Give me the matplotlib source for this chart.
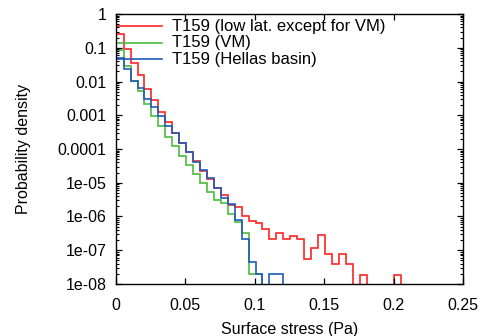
import numpy as np
import matplotlib
matplotlib.use("Agg")
import matplotlib.pyplot as plt
from matplotlib.ticker import LogLocator, FuncFormatter, NullFormatter, MultipleLocator

# histogram bin edges (Pa); first bin starts at 0
BIN_W = 0.005
EDGES = np.concatenate([[0.0], 0.0055 + BIN_W * np.arange(41)])

# probability density per bin (0 = empty bin)
low_lat = [2.51e-1, 8.91e-2, 3.55e-2, 1.51e-2, 6.03e-3, 2.75e-3, 1.26e-3,
           6.2e-4, 3.0e-4, 1.48e-4, 7.9e-5, 4.4e-5, 2.3e-5, 1.26e-5, 7.2e-6,
           4.2e-6, 2.2e-6, 1.86e-6, 1.07e-6, 7.2e-7, 6.6e-7, 4.3e-7, 2.1e-7,
           3.2e-7, 2.2e-7, 2.7e-7, 2.1e-7, 5.5e-8, 1.17e-7, 2.75e-7, 7.6e-8,
           4.0e-8, 7.6e-8, 4.0e-8, 0, 1.8e-8, 0, 0, 0, 0, 1.8e-8]
vm = [8.3e-2, 2.9e-2, 1.07e-2, 5.4e-3, 2.2e-3, 9.8e-4, 4.7e-4, 2.3e-4,
      1.2e-4, 6.3e-5, 3.3e-5, 1.8e-5, 9.8e-6, 5.4e-6, 3.0e-6, 2.45e-6,
      1.2e-6, 7.1e-7, 3.3e-7, 2.0e-8, 2.0e-8]
hellas = [5.13e-2, 2.4e-2, 1.07e-2, 6.3e-3, 3.1e-3, 1.74e-3, 9.5e-4, 4.9e-4,
          2.9e-4, 1.48e-4, 7.9e-5, 4.2e-5, 2.4e-5, 1.35e-5, 6.9e-6, 3.6e-6,
          2.3e-6, 8.1e-7, 2.2e-7, 4.5e-8, 2.0e-8, 0, 2.0e-8, 2.0e-8]

labels = ["T159 (low lat. except for VM)", "T159 (VM)", "T159 (Hellas basin)"]
colors = ["#ff2424", "#4cbb3c", "#1f5cb8"]
series = [low_lat, vm, hellas]

plt.rcParams["font.family"] = ["Liberation Sans", "DejaVu Sans"]
plt.rcParams["font.size"] = 11.5

fig = plt.figure(figsize=(4.86, 3.36), dpi=100)
ax = fig.add_axes([0.2387, 0.1548, 0.714, 0.8035])

FLOOR = 1e-12   # empty bins drawn below the axis so they get clipped
for vals, c in zip(series, colors):
    v = np.array(vals, dtype=float)
    v = np.where(v > 0, v, FLOOR)
    ax.stairs(v, EDGES[:len(v) + 1], baseline=FLOOR, color=c, lw=1.2)

ax.set_yscale("log")
ax.set_xlim(0, 0.25)
ax.set_ylim(1e-8, 1)
ax.xaxis.set_major_locator(MultipleLocator(0.05))
ax.yaxis.set_major_locator(LogLocator(base=10, numticks=12))
ax.yaxis.set_minor_locator(LogLocator(base=10, subs=np.arange(2, 10), numticks=12))
ax.yaxis.set_minor_formatter(NullFormatter())
fmt = FuncFormatter(lambda v, p: "%g" % v)
ax.xaxis.set_major_formatter(fmt)
ax.yaxis.set_major_formatter(fmt)
ax.tick_params(which="both", direction="in", top=True, right=True)
ax.tick_params(which="major", length=4, width=0.9)
ax.tick_params(which="minor", length=2.2, width=0.8)
ax.tick_params(axis="y", pad=7)
ax.tick_params(axis="x", pad=10)
for s in ax.spines.values():
    s.set_linewidth(1.0)

ax.set_xlabel("Surface stress (Pa)")
ax.set_ylabel("Probability density")
ax.xaxis.set_label_coords(0.5, -0.14)
ax.yaxis.set_label_coords(-0.245, 0.5)

# key, drawn gnuplot-style: sample line then text, top left inside the frame
for i, (lab, c) in enumerate(zip(labels, colors)):
    y = 1 - (12 + 16.7 * i) / 270.0
    ax.plot([0.002, 0.133], [y, y], color=c, lw=1.2, transform=ax.transAxes)
    ax.text(0.1605, y, lab, transform=ax.transAxes, va="center", ha="left",
            fontsize=12)

fig.savefig("out.png", dpi=100)
